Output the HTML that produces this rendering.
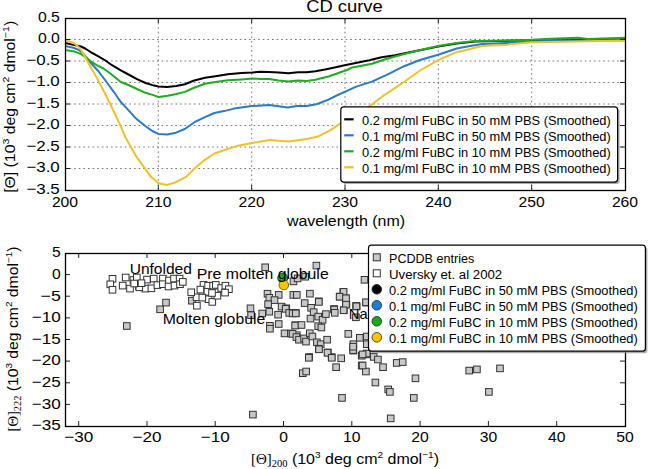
<!DOCTYPE html><html><head><meta charset="utf-8"><style>html,body{margin:0;padding:0;background:#fff;overflow:hidden}svg{display:block}</style></head><body><svg width="649" height="469" viewBox="0 0 649 469" font-family="&quot;Liberation Sans&quot;, sans-serif" fill="#000">
<rect width="649" height="469" fill="#fff"/>
<g stroke="#777" stroke-width="1" stroke-dasharray="1.6 3.0">
<line x1="158.3" y1="18" x2="158.3" y2="190"/>
<line x1="251.7" y1="18" x2="251.7" y2="190"/>
<line x1="345.0" y1="18" x2="345.0" y2="190"/>
<line x1="438.3" y1="18" x2="438.3" y2="190"/>
<line x1="531.7" y1="18" x2="531.7" y2="190"/>
<line x1="65" y1="39.5" x2="625" y2="39.5"/>
<line x1="65" y1="61.0" x2="625" y2="61.0"/>
<line x1="65" y1="82.5" x2="625" y2="82.5"/>
<line x1="65" y1="104.0" x2="625" y2="104.0"/>
<line x1="65" y1="125.5" x2="625" y2="125.5"/>
<line x1="65" y1="147.0" x2="625" y2="147.0"/>
<line x1="65" y1="168.5" x2="625" y2="168.5"/>
</g>
<svg x="65" y="18" width="560" height="172" viewBox="65 18 560 172" overflow="hidden">
<polyline fill="none" stroke="#000000" stroke-width="2.00" stroke-linejoin="round" stroke-linecap="butt" points="65.0,42.9 74.3,45.0 81.0,46.5 86.0,49.0 91.3,52.5 98.0,56.2 105.4,60.5 112.0,65.2 120.8,70.3 128.5,74.5 137.0,79.2 145.6,83.0 154.1,85.6 158.4,86.5 167.0,87.0 176.3,85.9 184.9,84.2 193.4,80.8 205.0,77.8 213.9,76.5 227.7,74.3 241.6,72.9 252.2,72.5 260.0,71.8 269.0,71.9 278.7,72.6 288.4,73.3 298.1,72.3 306.8,72.3 315.4,71.2 325.0,69.6 332.3,68.1 344.7,65.3 357.0,62.8 369.3,60.3 381.7,57.3 395.0,55.3 407.3,52.7 419.7,50.2 438.2,46.5 456.7,43.4 475.0,41.5 495.0,40.9 520.0,40.6 545.0,40.5 588.0,40.0 625.0,39.1"/>
<polyline fill="none" stroke="#2a7ac6" stroke-width="2.00" stroke-linejoin="round" stroke-linecap="butt" points="65.0,46.0 74.3,48.1 79.0,50.0 83.7,54.2 91.3,63.5 98.0,70.7 100.4,74.0 106.9,82.5 114.1,92.3 120.6,101.7 127.0,108.6 136.3,118.8 144.9,125.7 152.3,131.0 158.5,133.9 167.4,134.5 176.0,132.7 184.7,129.0 194.5,122.2 204.4,117.3 214.3,113.0 224.1,111.1 234.0,108.6 252.0,106.1 269.5,105.1 278.2,106.3 288.0,107.6 296.7,106.1 306.5,106.1 315.0,104.6 319.2,103.3 328.5,99.6 337.7,95.0 347.0,90.8 356.2,86.6 372.0,81.6 389.3,73.6 404.1,66.2 420.0,60.0 438.2,54.7 456.7,48.5 470.0,46.0 482.3,44.1 507.0,42.9 531.6,41.6 550.0,40.8 625.0,40.2"/>
<polyline fill="none" stroke="#1fac1f" stroke-width="2.00" stroke-linejoin="round" stroke-linecap="butt" points="65.0,50.1 74.3,51.4 81.0,54.2 86.0,57.5 91.3,61.8 98.0,65.8 103.5,68.5 112.0,74.8 120.8,82.0 128.5,85.0 137.0,89.0 145.6,92.8 154.1,95.4 158.4,97.0 167.8,95.7 176.3,94.0 184.9,91.9 193.4,88.0 205.0,83.8 213.9,82.2 227.7,80.3 241.6,79.4 252.2,78.5 260.0,78.9 269.0,79.0 278.7,80.4 288.4,81.4 298.1,80.4 306.8,80.9 315.4,79.8 319.2,78.8 328.5,76.5 337.7,73.2 347.0,70.0 352.3,67.4 372.0,63.7 383.2,60.0 395.0,56.5 407.3,53.2 419.7,50.2 438.2,46.0 456.7,42.9 475.0,41.1 494.7,40.8 519.3,40.4 545.0,39.1 577.7,37.8 588.2,39.1 625.0,37.8"/>
<polyline fill="none" stroke="#eec22c" stroke-width="2.00" stroke-linejoin="round" stroke-linecap="butt" points="65.0,40.4 70.0,41.8 74.3,43.5 78.0,46.5 81.0,49.8 83.7,54.5 87.5,61.5 91.3,68.2 95.3,75.0 99.2,82.5 104.6,92.8 110.5,104.5 115.5,115.2 120.6,126.0 125.5,137.5 131.1,147.2 136.6,156.9 145.0,168.6 150.5,176.3 158.5,183.2 167.1,184.9 175.0,182.5 186.1,176.9 194.7,168.3 203.4,160.9 214.5,153.5 226.8,149.2 236.7,146.1 255.0,142.4 270.0,140.0 288.5,141.5 307.0,138.9 317.8,136.6 330.1,130.4 339.4,124.2 369.6,106.2 383.2,95.8 395.5,87.7 405.4,81.0 420.0,70.5 438.2,60.2 456.7,52.2 470.0,49.0 482.3,46.0 507.0,44.7 531.6,42.3 550.0,42.0 625.0,40.5"/>
</svg>
<g stroke="#222" stroke-width="1">
<line x1="158.3" y1="190" x2="158.3" y2="185"/>
<line x1="158.3" y1="18" x2="158.3" y2="23"/>
<line x1="251.7" y1="190" x2="251.7" y2="185"/>
<line x1="251.7" y1="18" x2="251.7" y2="23"/>
<line x1="345.0" y1="190" x2="345.0" y2="185"/>
<line x1="345.0" y1="18" x2="345.0" y2="23"/>
<line x1="438.3" y1="190" x2="438.3" y2="185"/>
<line x1="438.3" y1="18" x2="438.3" y2="23"/>
<line x1="531.7" y1="190" x2="531.7" y2="185"/>
<line x1="531.7" y1="18" x2="531.7" y2="23"/>
<line x1="65" y1="39.5" x2="70" y2="39.5"/>
<line x1="625" y1="39.5" x2="620" y2="39.5"/>
<line x1="65" y1="61.0" x2="70" y2="61.0"/>
<line x1="625" y1="61.0" x2="620" y2="61.0"/>
<line x1="65" y1="82.5" x2="70" y2="82.5"/>
<line x1="625" y1="82.5" x2="620" y2="82.5"/>
<line x1="65" y1="104.0" x2="70" y2="104.0"/>
<line x1="625" y1="104.0" x2="620" y2="104.0"/>
<line x1="65" y1="125.5" x2="70" y2="125.5"/>
<line x1="625" y1="125.5" x2="620" y2="125.5"/>
<line x1="65" y1="147.0" x2="70" y2="147.0"/>
<line x1="625" y1="147.0" x2="620" y2="147.0"/>
<line x1="65" y1="168.5" x2="70" y2="168.5"/>
<line x1="625" y1="168.5" x2="620" y2="168.5"/>
</g>
<rect x="65.5" y="18.5" width="560" height="172" fill="none" stroke="#000" stroke-width="1.3"/>
<rect x="342.8" y="108.8" width="276.8" height="75.3" rx="3" fill="#888" opacity="0.7"/>
<rect x="340.8" y="106.8" width="276.8" height="75.3" rx="3" fill="#fff" stroke="#000" stroke-width="1.2"/>
<line x1="344.2" y1="119.3" x2="353.6" y2="119.3" stroke="#000000" stroke-width="2.2"/>
<text x="362.0" y="124.6" font-size="12.3" text-anchor="start" textLength="248.7" lengthAdjust="spacingAndGlyphs" >0.2 mg/ml FuBC in 50 mM PBS (Smoothed)</text>
<line x1="344.2" y1="135.3" x2="353.6" y2="135.3" stroke="#2a7ac6" stroke-width="2.2"/>
<text x="362.0" y="140.6" font-size="12.3" text-anchor="start" textLength="248.7" lengthAdjust="spacingAndGlyphs" >0.1 mg/ml FuBC in 50 mM PBS (Smoothed)</text>
<line x1="344.2" y1="151.3" x2="353.6" y2="151.3" stroke="#1fac1f" stroke-width="2.2"/>
<text x="362.0" y="156.6" font-size="12.3" text-anchor="start" textLength="248.7" lengthAdjust="spacingAndGlyphs" >0.2 mg/ml FuBC in 10 mM PBS (Smoothed)</text>
<line x1="344.2" y1="167.3" x2="353.6" y2="167.3" stroke="#eec22c" stroke-width="2.2"/>
<text x="362.0" y="172.6" font-size="12.3" text-anchor="start" textLength="248.7" lengthAdjust="spacingAndGlyphs" >0.1 mg/ml FuBC in 10 mM PBS (Smoothed)</text>
<text x="59.8" y="21.6" font-size="14.8" text-anchor="end" textLength="21.9" lengthAdjust="spacingAndGlyphs" >0.5</text>
<text x="59.8" y="43.1" font-size="14.8" text-anchor="end" textLength="21.9" lengthAdjust="spacingAndGlyphs" >0.0</text>
<text x="59.8" y="64.6" font-size="14.8" text-anchor="end" textLength="33.4" lengthAdjust="spacingAndGlyphs" >−0.5</text>
<text x="59.8" y="86.1" font-size="14.8" text-anchor="end" textLength="33.4" lengthAdjust="spacingAndGlyphs" >−1.0</text>
<text x="59.8" y="107.6" font-size="14.8" text-anchor="end" textLength="33.4" lengthAdjust="spacingAndGlyphs" >−1.5</text>
<text x="59.8" y="129.1" font-size="14.8" text-anchor="end" textLength="33.4" lengthAdjust="spacingAndGlyphs" >−2.0</text>
<text x="59.8" y="150.6" font-size="14.8" text-anchor="end" textLength="33.4" lengthAdjust="spacingAndGlyphs" >−2.5</text>
<text x="59.8" y="172.1" font-size="14.8" text-anchor="end" textLength="33.4" lengthAdjust="spacingAndGlyphs" >−3.0</text>
<text x="59.8" y="193.6" font-size="14.8" text-anchor="end" textLength="33.4" lengthAdjust="spacingAndGlyphs" >−3.5</text>
<text x="65.0" y="206.6" font-size="14.8" text-anchor="middle" textLength="26.2" lengthAdjust="spacingAndGlyphs" >200</text>
<text x="158.3" y="206.6" font-size="14.8" text-anchor="middle" textLength="26.2" lengthAdjust="spacingAndGlyphs" >210</text>
<text x="251.7" y="206.6" font-size="14.8" text-anchor="middle" textLength="26.2" lengthAdjust="spacingAndGlyphs" >220</text>
<text x="345.0" y="206.6" font-size="14.8" text-anchor="middle" textLength="26.2" lengthAdjust="spacingAndGlyphs" >230</text>
<text x="438.3" y="206.6" font-size="14.8" text-anchor="middle" textLength="26.2" lengthAdjust="spacingAndGlyphs" >240</text>
<text x="531.7" y="206.6" font-size="14.8" text-anchor="middle" textLength="26.2" lengthAdjust="spacingAndGlyphs" >250</text>
<text x="625.0" y="206.6" font-size="14.8" text-anchor="middle" textLength="26.2" lengthAdjust="spacingAndGlyphs" >260</text>
<text x="346.0" y="226.0" font-size="14.6" text-anchor="middle" textLength="118.2" lengthAdjust="spacingAndGlyphs" >wavelength (nm)</text>
<text x="344.5" y="11.8" font-size="16.8" text-anchor="middle" textLength="76.6" lengthAdjust="spacingAndGlyphs" >CD curve</text>
<g transform="translate(14.6,106.8) rotate(-90)"><text x="0.0" y="0.0" font-size="14.2" text-anchor="middle" textLength="172.0" lengthAdjust="spacingAndGlyphs" >[Θ] (10<tspan font-size="9.5" dy="-5.5">3</tspan><tspan dy="5.5"> deg cm</tspan><tspan font-size="9.5" dy="-5.5">2</tspan><tspan dy="5.5"> dmol</tspan><tspan font-size="9.5" dy="-5.5">−1</tspan><tspan dy="5.5">)</tspan></text></g>
<svg x="65" y="253" width="560" height="173" viewBox="65 253 560 173" overflow="hidden">
<g>
<rect x="123.5" y="322.7" width="6.6" height="6.6" fill="#c8c8c8" stroke="#333" stroke-width="1"/>
<rect x="156.8" y="306.0" width="6.6" height="6.6" fill="#c8c8c8" stroke="#333" stroke-width="1"/>
<rect x="162.7" y="299.3" width="6.6" height="6.6" fill="#c8c8c8" stroke="#333" stroke-width="1"/>
<rect x="188.6" y="297.4" width="6.6" height="6.6" fill="#c8c8c8" stroke="#333" stroke-width="1"/>
<rect x="261.9" y="264.0" width="6.6" height="6.6" fill="#c8c8c8" stroke="#333" stroke-width="1"/>
<rect x="264.2" y="290.4" width="6.6" height="6.6" fill="#c8c8c8" stroke="#333" stroke-width="1"/>
<rect x="266.0" y="294.5" width="6.6" height="6.6" fill="#c8c8c8" stroke="#333" stroke-width="1"/>
<rect x="275.4" y="291.6" width="6.6" height="6.6" fill="#c8c8c8" stroke="#333" stroke-width="1"/>
<rect x="271.2" y="296.8" width="6.6" height="6.6" fill="#c8c8c8" stroke="#333" stroke-width="1"/>
<rect x="264.8" y="300.9" width="6.6" height="6.6" fill="#c8c8c8" stroke="#333" stroke-width="1"/>
<rect x="290.0" y="291.6" width="6.6" height="6.6" fill="#c8c8c8" stroke="#333" stroke-width="1"/>
<rect x="293.5" y="291.6" width="6.6" height="6.6" fill="#c8c8c8" stroke="#333" stroke-width="1"/>
<rect x="247.2" y="305.0" width="6.6" height="6.6" fill="#c8c8c8" stroke="#333" stroke-width="1"/>
<rect x="278.3" y="303.3" width="6.6" height="6.6" fill="#c8c8c8" stroke="#333" stroke-width="1"/>
<rect x="283.0" y="305.0" width="6.6" height="6.6" fill="#c8c8c8" stroke="#333" stroke-width="1"/>
<rect x="313.1" y="262.3" width="6.6" height="6.6" fill="#c8c8c8" stroke="#333" stroke-width="1"/>
<rect x="290.2" y="278.1" width="6.6" height="6.6" fill="#c8c8c8" stroke="#333" stroke-width="1"/>
<rect x="294.3" y="275.1" width="6.6" height="6.6" fill="#c8c8c8" stroke="#333" stroke-width="1"/>
<rect x="301.9" y="273.4" width="6.6" height="6.6" fill="#c8c8c8" stroke="#333" stroke-width="1"/>
<rect x="306.6" y="290.4" width="6.6" height="6.6" fill="#c8c8c8" stroke="#333" stroke-width="1"/>
<rect x="301.4" y="299.8" width="6.6" height="6.6" fill="#c8c8c8" stroke="#333" stroke-width="1"/>
<rect x="315.4" y="298.0" width="6.6" height="6.6" fill="#c8c8c8" stroke="#333" stroke-width="1"/>
<rect x="307.8" y="304.5" width="6.6" height="6.6" fill="#c8c8c8" stroke="#333" stroke-width="1"/>
<rect x="340.0" y="288.6" width="6.6" height="6.6" fill="#c8c8c8" stroke="#333" stroke-width="1"/>
<rect x="336.5" y="293.3" width="6.6" height="6.6" fill="#c8c8c8" stroke="#333" stroke-width="1"/>
<rect x="342.4" y="295.1" width="6.6" height="6.6" fill="#c8c8c8" stroke="#333" stroke-width="1"/>
<rect x="343.0" y="300.9" width="6.6" height="6.6" fill="#c8c8c8" stroke="#333" stroke-width="1"/>
<rect x="352.9" y="302.7" width="6.6" height="6.6" fill="#c8c8c8" stroke="#333" stroke-width="1"/>
<rect x="330.7" y="305.7" width="6.6" height="6.6" fill="#c8c8c8" stroke="#333" stroke-width="1"/>
<rect x="247.8" y="311.9" width="6.6" height="6.6" fill="#c8c8c8" stroke="#333" stroke-width="1"/>
<rect x="258.9" y="310.2" width="6.6" height="6.6" fill="#c8c8c8" stroke="#333" stroke-width="1"/>
<rect x="266.0" y="308.4" width="6.6" height="6.6" fill="#c8c8c8" stroke="#333" stroke-width="1"/>
<rect x="274.8" y="311.4" width="6.6" height="6.6" fill="#c8c8c8" stroke="#333" stroke-width="1"/>
<rect x="282.4" y="305.5" width="6.6" height="6.6" fill="#c8c8c8" stroke="#333" stroke-width="1"/>
<rect x="285.9" y="309.6" width="6.6" height="6.6" fill="#c8c8c8" stroke="#333" stroke-width="1"/>
<rect x="292.4" y="309.6" width="6.6" height="6.6" fill="#c8c8c8" stroke="#333" stroke-width="1"/>
<rect x="266.6" y="322.5" width="6.6" height="6.6" fill="#c8c8c8" stroke="#333" stroke-width="1"/>
<rect x="266.6" y="325.4" width="6.6" height="6.6" fill="#c8c8c8" stroke="#333" stroke-width="1"/>
<rect x="275.4" y="320.7" width="6.6" height="6.6" fill="#c8c8c8" stroke="#333" stroke-width="1"/>
<rect x="281.2" y="330.1" width="6.6" height="6.6" fill="#c8c8c8" stroke="#333" stroke-width="1"/>
<rect x="287.7" y="330.1" width="6.6" height="6.6" fill="#c8c8c8" stroke="#333" stroke-width="1"/>
<rect x="292.4" y="321.9" width="6.6" height="6.6" fill="#c8c8c8" stroke="#333" stroke-width="1"/>
<rect x="293.5" y="331.9" width="6.6" height="6.6" fill="#c8c8c8" stroke="#333" stroke-width="1"/>
<rect x="295.9" y="336.0" width="6.6" height="6.6" fill="#c8c8c8" stroke="#333" stroke-width="1"/>
<rect x="315.5" y="298.6" width="6.6" height="6.6" fill="#c8c8c8" stroke="#333" stroke-width="1"/>
<rect x="310.4" y="308.9" width="6.6" height="6.6" fill="#c8c8c8" stroke="#333" stroke-width="1"/>
<rect x="289.3" y="310.1" width="6.6" height="6.6" fill="#c8c8c8" stroke="#333" stroke-width="1"/>
<rect x="292.5" y="310.1" width="6.6" height="6.6" fill="#c8c8c8" stroke="#333" stroke-width="1"/>
<rect x="307.2" y="315.3" width="6.6" height="6.6" fill="#c8c8c8" stroke="#333" stroke-width="1"/>
<rect x="314.9" y="313.3" width="6.6" height="6.6" fill="#c8c8c8" stroke="#333" stroke-width="1"/>
<rect x="319.3" y="316.5" width="6.6" height="6.6" fill="#c8c8c8" stroke="#333" stroke-width="1"/>
<rect x="322.6" y="310.8" width="6.6" height="6.6" fill="#c8c8c8" stroke="#333" stroke-width="1"/>
<rect x="330.9" y="306.3" width="6.6" height="6.6" fill="#c8c8c8" stroke="#333" stroke-width="1"/>
<rect x="331.5" y="309.5" width="6.6" height="6.6" fill="#c8c8c8" stroke="#333" stroke-width="1"/>
<rect x="340.5" y="306.9" width="6.6" height="6.6" fill="#c8c8c8" stroke="#333" stroke-width="1"/>
<rect x="343.0" y="301.2" width="6.6" height="6.6" fill="#c8c8c8" stroke="#333" stroke-width="1"/>
<rect x="353.3" y="303.1" width="6.6" height="6.6" fill="#c8c8c8" stroke="#333" stroke-width="1"/>
<rect x="352.6" y="314.0" width="6.6" height="6.6" fill="#c8c8c8" stroke="#333" stroke-width="1"/>
<rect x="362.9" y="299.3" width="6.6" height="6.6" fill="#c8c8c8" stroke="#333" stroke-width="1"/>
<rect x="291.8" y="322.3" width="6.6" height="6.6" fill="#c8c8c8" stroke="#333" stroke-width="1"/>
<rect x="298.2" y="321.7" width="6.6" height="6.6" fill="#c8c8c8" stroke="#333" stroke-width="1"/>
<rect x="314.9" y="322.9" width="6.6" height="6.6" fill="#c8c8c8" stroke="#333" stroke-width="1"/>
<rect x="318.1" y="324.2" width="6.6" height="6.6" fill="#c8c8c8" stroke="#333" stroke-width="1"/>
<rect x="289.3" y="330.6" width="6.6" height="6.6" fill="#c8c8c8" stroke="#333" stroke-width="1"/>
<rect x="293.1" y="333.8" width="6.6" height="6.6" fill="#c8c8c8" stroke="#333" stroke-width="1"/>
<rect x="295.7" y="336.4" width="6.6" height="6.6" fill="#c8c8c8" stroke="#333" stroke-width="1"/>
<rect x="300.8" y="335.1" width="6.6" height="6.6" fill="#c8c8c8" stroke="#333" stroke-width="1"/>
<rect x="302.7" y="338.3" width="6.6" height="6.6" fill="#c8c8c8" stroke="#333" stroke-width="1"/>
<rect x="306.5" y="330.0" width="6.6" height="6.6" fill="#c8c8c8" stroke="#333" stroke-width="1"/>
<rect x="309.1" y="333.2" width="6.6" height="6.6" fill="#c8c8c8" stroke="#333" stroke-width="1"/>
<rect x="313.6" y="339.0" width="6.6" height="6.6" fill="#c8c8c8" stroke="#333" stroke-width="1"/>
<rect x="317.4" y="340.9" width="6.6" height="6.6" fill="#c8c8c8" stroke="#333" stroke-width="1"/>
<rect x="323.8" y="336.4" width="6.6" height="6.6" fill="#c8c8c8" stroke="#333" stroke-width="1"/>
<rect x="315.5" y="345.4" width="6.6" height="6.6" fill="#c8c8c8" stroke="#333" stroke-width="1"/>
<rect x="324.5" y="349.2" width="6.6" height="6.6" fill="#c8c8c8" stroke="#333" stroke-width="1"/>
<rect x="305.9" y="353.7" width="6.6" height="6.6" fill="#c8c8c8" stroke="#333" stroke-width="1"/>
<rect x="328.3" y="353.7" width="6.6" height="6.6" fill="#c8c8c8" stroke="#333" stroke-width="1"/>
<rect x="337.9" y="355.0" width="6.6" height="6.6" fill="#c8c8c8" stroke="#333" stroke-width="1"/>
<rect x="345.0" y="330.6" width="6.6" height="6.6" fill="#c8c8c8" stroke="#333" stroke-width="1"/>
<rect x="356.5" y="334.5" width="6.6" height="6.6" fill="#c8c8c8" stroke="#333" stroke-width="1"/>
<rect x="350.1" y="340.9" width="6.6" height="6.6" fill="#c8c8c8" stroke="#333" stroke-width="1"/>
<rect x="350.1" y="347.3" width="6.6" height="6.6" fill="#c8c8c8" stroke="#333" stroke-width="1"/>
<rect x="358.4" y="352.4" width="6.6" height="6.6" fill="#c8c8c8" stroke="#333" stroke-width="1"/>
<rect x="363.5" y="350.5" width="6.6" height="6.6" fill="#c8c8c8" stroke="#333" stroke-width="1"/>
<rect x="363.5" y="333.2" width="6.6" height="6.6" fill="#c8c8c8" stroke="#333" stroke-width="1"/>
<rect x="363.5" y="340.9" width="6.6" height="6.6" fill="#c8c8c8" stroke="#333" stroke-width="1"/>
<rect x="305.5" y="354.5" width="6.6" height="6.6" fill="#c8c8c8" stroke="#333" stroke-width="1"/>
<rect x="315.7" y="346.0" width="6.6" height="6.6" fill="#c8c8c8" stroke="#333" stroke-width="1"/>
<rect x="324.2" y="349.4" width="6.6" height="6.6" fill="#c8c8c8" stroke="#333" stroke-width="1"/>
<rect x="328.5" y="354.5" width="6.6" height="6.6" fill="#c8c8c8" stroke="#333" stroke-width="1"/>
<rect x="332.8" y="363.9" width="6.6" height="6.6" fill="#c8c8c8" stroke="#333" stroke-width="1"/>
<rect x="299.5" y="369.9" width="6.6" height="6.6" fill="#c8c8c8" stroke="#333" stroke-width="1"/>
<rect x="302.9" y="368.2" width="6.6" height="6.6" fill="#c8c8c8" stroke="#333" stroke-width="1"/>
<rect x="338.7" y="394.6" width="6.6" height="6.6" fill="#c8c8c8" stroke="#333" stroke-width="1"/>
<rect x="349.8" y="346.8" width="6.6" height="6.6" fill="#c8c8c8" stroke="#333" stroke-width="1"/>
<rect x="349.8" y="343.4" width="6.6" height="6.6" fill="#c8c8c8" stroke="#333" stroke-width="1"/>
<rect x="362.6" y="351.1" width="6.6" height="6.6" fill="#c8c8c8" stroke="#333" stroke-width="1"/>
<rect x="358.4" y="362.2" width="6.6" height="6.6" fill="#c8c8c8" stroke="#333" stroke-width="1"/>
<rect x="362.6" y="368.2" width="6.6" height="6.6" fill="#c8c8c8" stroke="#333" stroke-width="1"/>
<rect x="363.5" y="350.2" width="6.6" height="6.6" fill="#c8c8c8" stroke="#333" stroke-width="1"/>
<rect x="359.3" y="351.1" width="6.6" height="6.6" fill="#c8c8c8" stroke="#333" stroke-width="1"/>
<rect x="370.4" y="353.6" width="6.6" height="6.6" fill="#c8c8c8" stroke="#333" stroke-width="1"/>
<rect x="374.6" y="356.2" width="6.6" height="6.6" fill="#c8c8c8" stroke="#333" stroke-width="1"/>
<rect x="359.3" y="362.2" width="6.6" height="6.6" fill="#c8c8c8" stroke="#333" stroke-width="1"/>
<rect x="379.7" y="363.9" width="6.6" height="6.6" fill="#c8c8c8" stroke="#333" stroke-width="1"/>
<rect x="393.4" y="359.6" width="6.6" height="6.6" fill="#c8c8c8" stroke="#333" stroke-width="1"/>
<rect x="399.4" y="358.8" width="6.6" height="6.6" fill="#c8c8c8" stroke="#333" stroke-width="1"/>
<rect x="412.2" y="375.0" width="6.6" height="6.6" fill="#c8c8c8" stroke="#333" stroke-width="1"/>
<rect x="372.1" y="379.2" width="6.6" height="6.6" fill="#c8c8c8" stroke="#333" stroke-width="1"/>
<rect x="384.9" y="386.1" width="6.6" height="6.6" fill="#c8c8c8" stroke="#333" stroke-width="1"/>
<rect x="386.6" y="388.6" width="6.6" height="6.6" fill="#c8c8c8" stroke="#333" stroke-width="1"/>
<rect x="410.5" y="394.6" width="6.6" height="6.6" fill="#c8c8c8" stroke="#333" stroke-width="1"/>
<rect x="387.4" y="415.1" width="6.6" height="6.6" fill="#c8c8c8" stroke="#333" stroke-width="1"/>
<rect x="465.9" y="367.3" width="6.6" height="6.6" fill="#c8c8c8" stroke="#333" stroke-width="1"/>
<rect x="473.6" y="366.1" width="6.6" height="6.6" fill="#c8c8c8" stroke="#333" stroke-width="1"/>
<rect x="496.7" y="365.1" width="6.6" height="6.6" fill="#c8c8c8" stroke="#333" stroke-width="1"/>
<rect x="485.6" y="388.6" width="6.6" height="6.6" fill="#c8c8c8" stroke="#333" stroke-width="1"/>
<rect x="249.6" y="411.3" width="6.6" height="6.6" fill="#c8c8c8" stroke="#333" stroke-width="1"/>
<rect x="361.2" y="276.5" width="6.6" height="6.6" fill="#c8c8c8" stroke="#333" stroke-width="1"/>
<rect x="340.3" y="288.6" width="6.6" height="6.6" fill="#c8c8c8" stroke="#333" stroke-width="1"/>
<rect x="336.3" y="293.4" width="6.6" height="6.6" fill="#c8c8c8" stroke="#333" stroke-width="1"/>
<rect x="342.7" y="295.0" width="6.6" height="6.6" fill="#c8c8c8" stroke="#333" stroke-width="1"/>
<rect x="342.7" y="301.4" width="6.6" height="6.6" fill="#c8c8c8" stroke="#333" stroke-width="1"/>
<rect x="340.3" y="307.0" width="6.6" height="6.6" fill="#c8c8c8" stroke="#333" stroke-width="1"/>
<rect x="353.1" y="303.0" width="6.6" height="6.6" fill="#c8c8c8" stroke="#333" stroke-width="1"/>
<rect x="362.7" y="299.0" width="6.6" height="6.6" fill="#c8c8c8" stroke="#333" stroke-width="1"/>
<rect x="109.2" y="275.5" width="6.6" height="6.6" fill="#ffffff" stroke="#333" stroke-width="1"/>
<rect x="107.0" y="281.0" width="6.6" height="6.6" fill="#ffffff" stroke="#333" stroke-width="1"/>
<rect x="109.2" y="286.5" width="6.6" height="6.6" fill="#ffffff" stroke="#333" stroke-width="1"/>
<rect x="122.4" y="274.2" width="6.6" height="6.6" fill="#ffffff" stroke="#333" stroke-width="1"/>
<rect x="119.4" y="282.3" width="6.6" height="6.6" fill="#ffffff" stroke="#333" stroke-width="1"/>
<rect x="126.7" y="285.3" width="6.6" height="6.6" fill="#ffffff" stroke="#333" stroke-width="1"/>
<rect x="130.1" y="276.7" width="6.6" height="6.6" fill="#ffffff" stroke="#333" stroke-width="1"/>
<rect x="133.5" y="274.2" width="6.6" height="6.6" fill="#ffffff" stroke="#333" stroke-width="1"/>
<rect x="135.6" y="282.7" width="6.6" height="6.6" fill="#ffffff" stroke="#333" stroke-width="1"/>
<rect x="142.0" y="285.3" width="6.6" height="6.6" fill="#ffffff" stroke="#333" stroke-width="1"/>
<rect x="143.7" y="276.3" width="6.6" height="6.6" fill="#ffffff" stroke="#333" stroke-width="1"/>
<rect x="136.0" y="284.0" width="6.6" height="6.6" fill="#ffffff" stroke="#333" stroke-width="1"/>
<rect x="150.4" y="275.3" width="6.6" height="6.6" fill="#ffffff" stroke="#333" stroke-width="1"/>
<rect x="148.1" y="285.0" width="6.6" height="6.6" fill="#ffffff" stroke="#333" stroke-width="1"/>
<rect x="154.1" y="281.8" width="6.6" height="6.6" fill="#ffffff" stroke="#333" stroke-width="1"/>
<rect x="159.6" y="275.3" width="6.6" height="6.6" fill="#ffffff" stroke="#333" stroke-width="1"/>
<rect x="159.6" y="280.9" width="6.6" height="6.6" fill="#ffffff" stroke="#333" stroke-width="1"/>
<rect x="165.7" y="277.2" width="6.6" height="6.6" fill="#ffffff" stroke="#333" stroke-width="1"/>
<rect x="165.2" y="283.2" width="6.6" height="6.6" fill="#ffffff" stroke="#333" stroke-width="1"/>
<rect x="170.7" y="275.3" width="6.6" height="6.6" fill="#ffffff" stroke="#333" stroke-width="1"/>
<rect x="171.2" y="282.3" width="6.6" height="6.6" fill="#ffffff" stroke="#333" stroke-width="1"/>
<rect x="176.3" y="275.3" width="6.6" height="6.6" fill="#ffffff" stroke="#333" stroke-width="1"/>
<rect x="176.7" y="280.9" width="6.6" height="6.6" fill="#ffffff" stroke="#333" stroke-width="1"/>
<rect x="179.5" y="278.6" width="6.6" height="6.6" fill="#ffffff" stroke="#333" stroke-width="1"/>
<rect x="130.9" y="280.2" width="6.6" height="6.6" fill="#ffffff" stroke="#333" stroke-width="1"/>
<rect x="138.2" y="279.9" width="6.6" height="6.6" fill="#ffffff" stroke="#333" stroke-width="1"/>
<rect x="200.2" y="281.6" width="6.6" height="6.6" fill="#ffffff" stroke="#333" stroke-width="1"/>
<rect x="204.8" y="282.4" width="6.6" height="6.6" fill="#ffffff" stroke="#333" stroke-width="1"/>
<rect x="209.8" y="282.4" width="6.6" height="6.6" fill="#ffffff" stroke="#333" stroke-width="1"/>
<rect x="212.5" y="281.6" width="6.6" height="6.6" fill="#ffffff" stroke="#333" stroke-width="1"/>
<rect x="204.0" y="288.6" width="6.6" height="6.6" fill="#ffffff" stroke="#333" stroke-width="1"/>
<rect x="193.3" y="294.0" width="6.6" height="6.6" fill="#ffffff" stroke="#333" stroke-width="1"/>
<rect x="205.2" y="295.9" width="6.6" height="6.6" fill="#ffffff" stroke="#333" stroke-width="1"/>
<rect x="209.0" y="298.6" width="6.6" height="6.6" fill="#ffffff" stroke="#333" stroke-width="1"/>
<rect x="214.1" y="292.4" width="6.6" height="6.6" fill="#ffffff" stroke="#333" stroke-width="1"/>
<rect x="217.9" y="284.7" width="6.6" height="6.6" fill="#ffffff" stroke="#333" stroke-width="1"/>
<rect x="222.1" y="282.4" width="6.6" height="6.6" fill="#ffffff" stroke="#333" stroke-width="1"/>
<rect x="225.6" y="285.9" width="6.6" height="6.6" fill="#ffffff" stroke="#333" stroke-width="1"/>
<rect x="187.9" y="289.0" width="6.6" height="6.6" fill="#ffffff" stroke="#333" stroke-width="1"/>
<rect x="197.1" y="286.3" width="6.6" height="6.6" fill="#ffffff" stroke="#333" stroke-width="1"/>
<rect x="199.0" y="294.3" width="6.6" height="6.6" fill="#ffffff" stroke="#333" stroke-width="1"/>
<rect x="193.6" y="302.4" width="6.6" height="6.6" fill="#ffffff" stroke="#333" stroke-width="1"/>
<rect x="221.7" y="289.3" width="6.6" height="6.6" fill="#ffffff" stroke="#333" stroke-width="1"/>
<rect x="208.7" y="289.7" width="6.6" height="6.6" fill="#ffffff" stroke="#333" stroke-width="1"/>
</g>
<circle cx="282.7" cy="278.1" r="5.0" fill="#17aa17" stroke="#222" stroke-width="0.8"/>
<circle cx="283.8" cy="285.0" r="4.8" fill="#ffc400" stroke="#5a4a00" stroke-width="0.8"/>
</svg>
<text x="129.7" y="274.2" font-size="14.5" text-anchor="start" textLength="62.2" lengthAdjust="spacingAndGlyphs" >Unfolded</text>
<text x="196.8" y="278.5" font-size="14.5" text-anchor="start" textLength="131.9" lengthAdjust="spacingAndGlyphs" >Pre molten globule</text>
<text x="162.7" y="323.5" font-size="14.5" text-anchor="start" textLength="102.5" lengthAdjust="spacingAndGlyphs" >Molten globule</text>
<text x="348.8" y="319.3" font-size="14.5" text-anchor="start" textLength="18.8" lengthAdjust="spacingAndGlyphs" >Na</text>
<g stroke="#222" stroke-width="1">
<line x1="78.7" y1="426" x2="78.7" y2="421"/>
<line x1="78.7" y1="253" x2="78.7" y2="258"/>
<line x1="147.0" y1="426" x2="147.0" y2="421"/>
<line x1="147.0" y1="253" x2="147.0" y2="258"/>
<line x1="215.2" y1="426" x2="215.2" y2="421"/>
<line x1="215.2" y1="253" x2="215.2" y2="258"/>
<line x1="283.5" y1="426" x2="283.5" y2="421"/>
<line x1="283.5" y1="253" x2="283.5" y2="258"/>
<line x1="351.8" y1="426" x2="351.8" y2="421"/>
<line x1="351.8" y1="253" x2="351.8" y2="258"/>
<line x1="420.1" y1="426" x2="420.1" y2="421"/>
<line x1="420.1" y1="253" x2="420.1" y2="258"/>
<line x1="488.4" y1="426" x2="488.4" y2="421"/>
<line x1="488.4" y1="253" x2="488.4" y2="258"/>
<line x1="556.7" y1="426" x2="556.7" y2="421"/>
<line x1="556.7" y1="253" x2="556.7" y2="258"/>
<line x1="65" y1="274.6" x2="70" y2="274.6"/>
<line x1="625" y1="274.6" x2="620" y2="274.6"/>
<line x1="65" y1="296.2" x2="70" y2="296.2"/>
<line x1="625" y1="296.2" x2="620" y2="296.2"/>
<line x1="65" y1="317.9" x2="70" y2="317.9"/>
<line x1="625" y1="317.9" x2="620" y2="317.9"/>
<line x1="65" y1="339.5" x2="70" y2="339.5"/>
<line x1="625" y1="339.5" x2="620" y2="339.5"/>
<line x1="65" y1="361.1" x2="70" y2="361.1"/>
<line x1="625" y1="361.1" x2="620" y2="361.1"/>
<line x1="65" y1="382.8" x2="70" y2="382.8"/>
<line x1="625" y1="382.8" x2="620" y2="382.8"/>
<line x1="65" y1="404.4" x2="70" y2="404.4"/>
<line x1="625" y1="404.4" x2="620" y2="404.4"/>
</g>
<rect x="65.5" y="253.5" width="560" height="173" fill="none" stroke="#000" stroke-width="1.3"/>
<text x="60.8" y="257.3" font-size="14.8" text-anchor="end" textLength="8.7" lengthAdjust="spacingAndGlyphs" >5</text>
<text x="60.8" y="278.9" font-size="14.8" text-anchor="end" textLength="8.7" lengthAdjust="spacingAndGlyphs" >0</text>
<text x="60.8" y="300.6" font-size="14.8" text-anchor="end" textLength="20.3" lengthAdjust="spacingAndGlyphs" >−5</text>
<text x="60.8" y="322.2" font-size="14.8" text-anchor="end" textLength="29.0" lengthAdjust="spacingAndGlyphs" >−10</text>
<text x="60.8" y="343.8" font-size="14.8" text-anchor="end" textLength="29.0" lengthAdjust="spacingAndGlyphs" >−15</text>
<text x="60.8" y="365.4" font-size="14.8" text-anchor="end" textLength="29.0" lengthAdjust="spacingAndGlyphs" >−20</text>
<text x="60.8" y="387.1" font-size="14.8" text-anchor="end" textLength="29.0" lengthAdjust="spacingAndGlyphs" >−25</text>
<text x="60.8" y="408.7" font-size="14.8" text-anchor="end" textLength="29.0" lengthAdjust="spacingAndGlyphs" >−30</text>
<text x="60.8" y="430.3" font-size="14.8" text-anchor="end" textLength="29.0" lengthAdjust="spacingAndGlyphs" >−35</text>
<text x="78.7" y="441.6" font-size="14.8" text-anchor="middle" textLength="29.0" lengthAdjust="spacingAndGlyphs" >−30</text>
<text x="147.0" y="441.6" font-size="14.8" text-anchor="middle" textLength="29.0" lengthAdjust="spacingAndGlyphs" >−20</text>
<text x="215.2" y="441.6" font-size="14.8" text-anchor="middle" textLength="29.0" lengthAdjust="spacingAndGlyphs" >−10</text>
<text x="283.5" y="441.6" font-size="14.8" text-anchor="middle" textLength="8.7" lengthAdjust="spacingAndGlyphs" >0</text>
<text x="351.8" y="441.6" font-size="14.8" text-anchor="middle" textLength="17.5" lengthAdjust="spacingAndGlyphs" >10</text>
<text x="420.1" y="441.6" font-size="14.8" text-anchor="middle" textLength="17.5" lengthAdjust="spacingAndGlyphs" >20</text>
<text x="488.4" y="441.6" font-size="14.8" text-anchor="middle" textLength="17.5" lengthAdjust="spacingAndGlyphs" >30</text>
<text x="556.7" y="441.6" font-size="14.8" text-anchor="middle" textLength="17.5" lengthAdjust="spacingAndGlyphs" >40</text>
<text x="625.0" y="441.6" font-size="14.8" text-anchor="middle" textLength="17.5" lengthAdjust="spacingAndGlyphs" >50</text>
<g transform="translate(345,464)"><text x="0" y="0" font-size="14.6" text-anchor="middle" textLength="188.0" lengthAdjust="spacingAndGlyphs"><tspan font-family="&quot;Liberation Serif&quot;, serif" font-size="13.6">[Θ]</tspan><tspan font-family="&quot;Liberation Serif&quot;, serif" font-size="9.6" dy="2.6">200</tspan><tspan dy="-2.6"> (10</tspan><tspan font-size="9.2" dy="-5.8">3</tspan><tspan dy="5.8"> deg cm</tspan><tspan font-size="9.2" dy="-5.8">2</tspan><tspan dy="5.8"> dmol</tspan><tspan font-size="9.2" dy="-5.8">−1</tspan><tspan dy="5.8">)</tspan></text></g>
<g transform="translate(18.0,339) rotate(-90)"><text x="0" y="0" font-size="14.6" text-anchor="middle" textLength="185.0" lengthAdjust="spacingAndGlyphs"><tspan font-family="&quot;Liberation Serif&quot;, serif" font-size="13.6">[Θ]</tspan><tspan font-family="&quot;Liberation Serif&quot;, serif" font-size="9.6" dy="2.6">222</tspan><tspan dy="-2.6"> (10</tspan><tspan font-size="9.2" dy="-5.8">3</tspan><tspan dy="5.8"> deg cm</tspan><tspan font-size="9.2" dy="-5.8">2</tspan><tspan dy="5.8"> dmol</tspan><tspan font-size="9.2" dy="-5.8">−1</tspan><tspan dy="5.8">)</tspan></text></g>
<rect x="370.5" y="247.1" width="276.9" height="106.1" rx="3" fill="#888" opacity="0.7"/>
<rect x="368.5" y="245.1" width="276.9" height="106.1" rx="3" fill="#fff" stroke="#000" stroke-width="1.2"/>
<rect x="373.3" y="253.8" width="7.0" height="7.0" fill="#c8c8c8" stroke="#333" stroke-width="1"/>
<rect x="373.3" y="269.8" width="7.0" height="7.0" fill="#ffffff" stroke="#333" stroke-width="1"/>
<circle cx="376.8" cy="289.3" r="4.8" fill="#000000" stroke="#222" stroke-width="0.8"/>
<circle cx="376.8" cy="305.3" r="4.8" fill="#1a7fdc" stroke="#222" stroke-width="0.8"/>
<circle cx="376.8" cy="321.3" r="4.8" fill="#17aa17" stroke="#222" stroke-width="0.8"/>
<circle cx="376.8" cy="337.3" r="4.8" fill="#ffc400" stroke="#222" stroke-width="0.8"/>
<text x="389.0" y="262.7" font-size="12.3" text-anchor="start" textLength="85.2" lengthAdjust="spacingAndGlyphs" >PCDDB entries</text>
<text x="389.0" y="278.7" font-size="12.3" text-anchor="start" textLength="113.2" lengthAdjust="spacingAndGlyphs" >Uversky et. al 2002</text>
<text x="389.0" y="294.7" font-size="12.3" text-anchor="start" textLength="248.7" lengthAdjust="spacingAndGlyphs" >0.2 mg/ml FuBC in 50 mM PBS (Smoothed)</text>
<text x="389.0" y="310.7" font-size="12.3" text-anchor="start" textLength="248.7" lengthAdjust="spacingAndGlyphs" >0.1 mg/ml FuBC in 50 mM PBS (Smoothed)</text>
<text x="389.0" y="326.7" font-size="12.3" text-anchor="start" textLength="248.7" lengthAdjust="spacingAndGlyphs" >0.2 mg/ml FuBC in 10 mM PBS (Smoothed)</text>
<text x="389.0" y="342.7" font-size="12.3" text-anchor="start" textLength="248.7" lengthAdjust="spacingAndGlyphs" >0.1 mg/ml FuBC in 10 mM PBS (Smoothed)</text>
</svg></body></html>
